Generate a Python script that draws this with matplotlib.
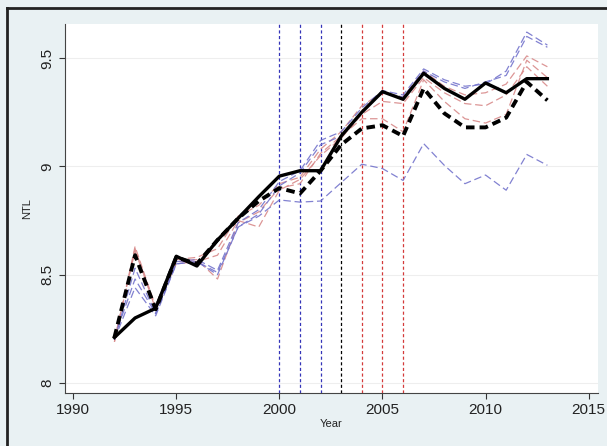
import numpy as np
import matplotlib
matplotlib.use('Agg')
import matplotlib.pyplot as plt
from matplotlib.lines import Line2D

plt.rcParams['font.family'] = ['Liberation Sans', 'DejaVu Sans']

years = list(range(1992, 2014))

# treated unit (solid) and synthetic control (thick dashed)
ntl_main = [8.21, 8.30, 8.345, 8.585, 8.54, 8.66, 8.76, 8.86, 8.955, 8.98, 8.98,
            9.14, 9.25, 9.345, 9.31, 9.43, 9.36, 9.31, 9.385, 9.34, 9.405, 9.405]
ntl_synth = [8.21, 8.59, 8.34, 8.58, 8.55, 8.66, 8.76, 8.84, 8.90, 8.875, 8.98,
             9.10, 9.175, 9.19, 9.14, 9.36, 9.245, 9.18, 9.18, 9.225, 9.39, 9.305]

# placebo runs, thin dashed
blue_runs = [
    [8.20, 8.53, 8.32, 8.56, 8.57, 8.52, 8.74, 8.80, 8.93, 8.98, 9.12,
     9.16, 9.27, 9.35, 9.33, 9.45, 9.40, 9.37, 9.38, 9.44, 9.62, 9.56],
    [8.20, 8.44, 8.31, 8.55, 8.56, 8.50, 8.72, 8.78, 8.91, 8.97, 9.10,
     9.14, 9.25, 9.34, 9.32, 9.44, 9.39, 9.36, 9.39, 9.42, 9.60, 9.55],
    [8.21, 8.48, 8.32, 8.55, 8.56, 8.51, 8.72, 8.77, 8.845, 8.835, 8.84,
     8.925, 9.01, 8.99, 8.935, 9.105, 9.005, 8.92, 8.96, 8.89, 9.055, 9.005],
]
red_runs = [
    [8.19, 8.63, 8.35, 8.57, 8.58, 8.62, 8.77, 8.82, 8.92, 8.95, 9.08,
     9.16, 9.28, 9.34, 9.32, 9.44, 9.37, 9.33, 9.34, 9.38, 9.51, 9.46],
    [8.19, 8.62, 8.34, 8.56, 8.57, 8.48, 8.74, 8.79, 8.90, 8.92, 9.06,
     9.14, 9.22, 9.22, 9.16, 9.40, 9.30, 9.22, 9.20, 9.24, 9.49, 9.41],
    [8.20, 8.61, 8.35, 8.55, 8.56, 8.59, 8.75, 8.72, 8.89, 8.94, 9.05,
     9.13, 9.24, 9.30, 9.29, 9.41, 9.34, 9.29, 9.28, 9.33, 9.46, 9.37],
]

vlines_blue = [2000, 2001, 2002]
vlines_black = [2003]
vlines_red = [2004, 2005, 2006]

bg = '#e9f1f3'
fig = plt.figure(figsize=(6.07, 4.46), dpi=100, facecolor=bg)
ax = fig.add_axes([0.107, 0.119, 0.878, 0.827])
ax.set_facecolor('white')

# reference years
for x in vlines_blue:
    ax.axvline(x, color='#3434b8', lw=0.9, ls=(0, (2.5, 2)))
for x in vlines_black:
    ax.axvline(x, color='black', lw=0.9, ls=(0, (2.5, 2)))
for x in vlines_red:
    ax.axvline(x, color='#d43a3a', lw=0.9, ls=(0, (2.5, 2)))

for r in red_runs:
    ax.plot(years, r, color='#d88a8a', lw=0.9, ls=(0, (6, 3)), alpha=0.9)
for b in blue_runs:
    ax.plot(years, b, color='#7474cc', lw=0.9, ls=(0, (6, 3)), alpha=0.9)

ax.plot(years, ntl_synth, color='black', lw=2.8, ls=(0, (2.2, 1.3)))
ax.plot(years, ntl_main, color='black', lw=2.4)

ax.set_xlim(1989.6, 2015.45)
ax.set_ylim(7.954, 9.657)
ax.set_xticks([1990, 1995, 2000, 2005, 2010, 2015])
ax.set_yticks([8, 8.5, 9, 9.5])
ax.set_yticklabels(['8', '8.5', '9', '9.5'], rotation=90, va='center')
ax.tick_params(labelsize=11, length=4, color='#333333', labelcolor='#222222')
ax.grid(axis='y', color='#eeeeee', lw=0.8)
ax.set_axisbelow(True)
for s in ['top', 'right']:
    ax.spines[s].set_visible(False)
for s in ['left', 'bottom']:
    ax.spines[s].set_color('#444444')
ax.set_xlabel('Year', fontsize=8, color='#222222', labelpad=1)
ax.set_ylabel('NTL', fontsize=8, color='#222222', labelpad=6)

# frame of the screenshot (top and left edges only)
fig.add_artist(Line2D([0.012, 1.0], [0.982, 0.982], color='#222222', lw=2,
                      transform=fig.transFigure))
fig.add_artist(Line2D([0.012, 0.012], [0.0, 0.982], color='#222222', lw=2,
                      transform=fig.transFigure))

fig.savefig('out.png', dpi=100, facecolor=bg)
